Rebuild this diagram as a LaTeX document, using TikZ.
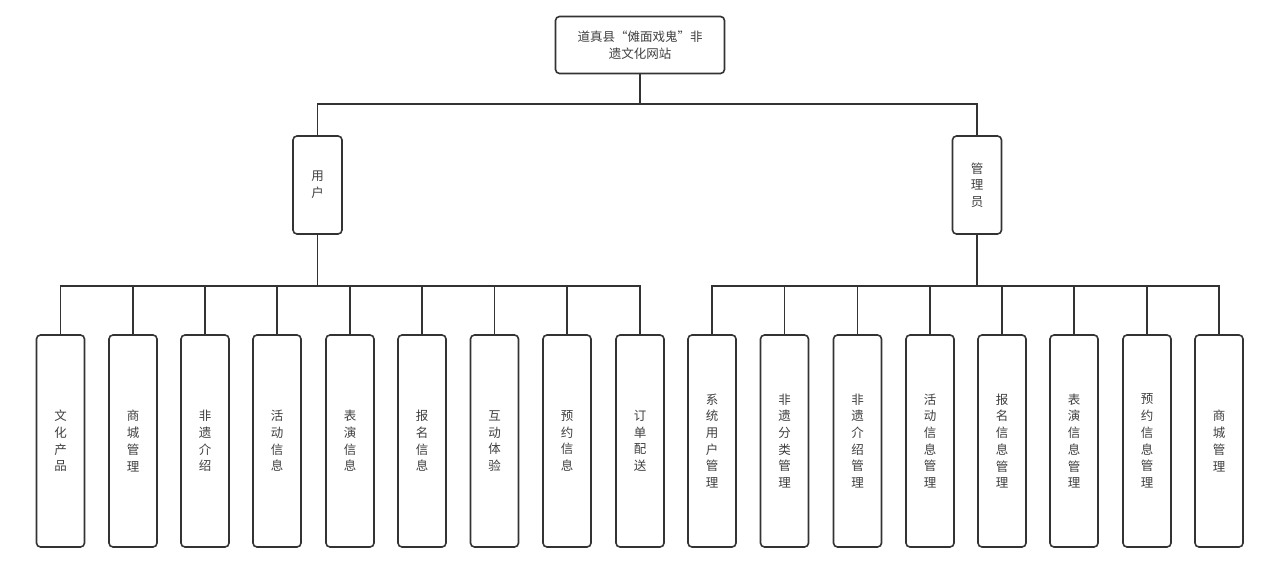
\documentclass[tikz,border=0pt]{standalone}
\usepackage{fontspec}
\setmainfont{Noto Sans CJK SC}
\begin{document}
\begin{tikzpicture}[x=1pt,y=1pt,
  box/.style={draw=black!80, line width=1.6pt, rounded corners=4pt, fill=white,
    text=black!75, font=\fontsize{12.5}{16.7}\selectfont, align=center, inner sep=0pt},
  leaf/.style={box, minimum width=48pt, minimum height=212pt},
  mid/.style={box, minimum width=49pt, minimum height=98pt},
  conn/.style={draw=black!80, line width=1.6pt}]
\useasboundingbox (0,0) rectangle (1275,573);
\node[box, minimum width=169pt, minimum height=57pt] (top) at (640,528) {道真县“傩面戏鬼”非\\遗文化网站};
\node[mid] (user) at (317.5,388) {用\\户};
\node[mid] (admin) at (977,388) {管\\理\\员};
% user children
\node[leaf] (u1) at (60.5,132) {文\\化\\产\\品};
\node[leaf] (u2) at (133,132) {商\\城\\管\\理};
\node[leaf] (u3) at (205,132) {非\\遗\\介\\绍};
\node[leaf] (u4) at (277,132) {活\\动\\信\\息};
\node[leaf] (u5) at (350,132) {表\\演\\信\\息};
\node[leaf] (u6) at (422,132) {报\\名\\信\\息};
\node[leaf] (u7) at (494.5,132) {互\\动\\体\\验};
\node[leaf] (u8) at (567,132) {预\\约\\信\\息};
\node[leaf] (u9) at (640,132) {订\\单\\配\\送};
% admin children
\node[leaf] (a1) at (712,132) {系\\统\\用\\户\\管\\理};
\node[leaf] (a2) at (784.5,132) {非\\遗\\分\\类\\管\\理};
\node[leaf] (a3) at (857.5,132) {非\\遗\\介\\绍\\管\\理};
\node[leaf] (a4) at (930,132) {活\\动\\信\\息\\管\\理};
\node[leaf] (a5) at (1002,132) {报\\名\\信\\息\\管\\理};
\node[leaf] (a6) at (1074,132) {表\\演\\信\\息\\管\\理};
\node[leaf] (a7) at (1147,132) {预\\约\\信\\息\\管\\理};
\node[leaf] (a8) at (1219,132) {商\\城\\管\\理};
% connectors
\draw[conn] (top.south) -- ++(0,-30) -| (user.north);
\draw[conn] (top.south) -- ++(0,-30) -| (admin.north);
\foreach \c in {u1,u2,u3,u4,u5,u6,u7,u8,u9}
  \draw[conn] (user.south) -- ++(0,-51) -| (\c.north);
\foreach \c in {a1,a2,a3,a4,a5,a6,a7,a8}
  \draw[conn] (admin.south) -- ++(0,-51) -| (\c.north);
\end{tikzpicture}
\end{document}
